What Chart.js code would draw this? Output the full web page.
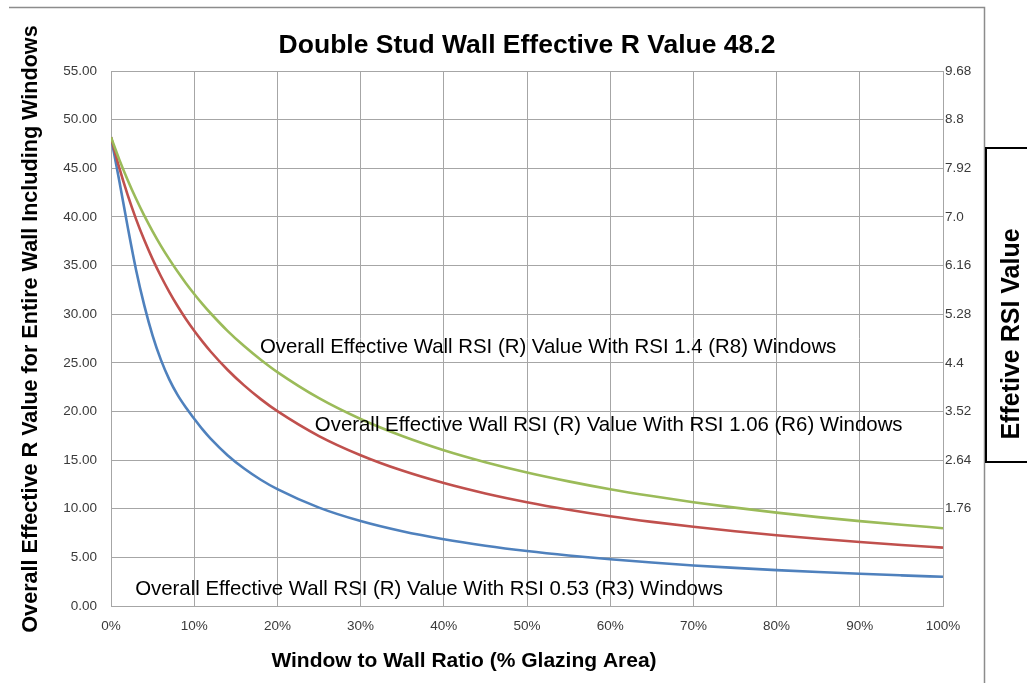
<!DOCTYPE html>
<html lang="en">
<head>
  <meta charset="UTF-8">
  <title>Double Stud Wall Effective R Value</title>
  <style>
    body { margin: 0; background: #fff; }
    #wrap { width: 1027px; height: 683px; }
  </style>
</head>
<body>

<div id="wrap">
  <canvas id="myChart" width="1027" height="683"></canvas>
</div>

<script src="https://cdn.jsdelivr.net/npm/chart.js"></script>

<script>
  // window to wall ratio, % of glazing area
  const wwr = [0, 1, 2, 3, 4, 5, 6, 7, 8, 9, 10, 11, 12, 14, 16, 18, 20, 25, 30, 35, 40,
               45, 50, 55, 60, 65, 70, 75, 80, 85, 90, 95, 100];

  // overall effective R of the wall, one series per window type
  const withR8 = [48.2, 45.89, 43.80, 41.89, 40.13, 38.52, 37.03, 35.66, 34.38, 33.19, 32.08, 31.04,
                  30.07, 28.29, 26.72, 25.31, 24.04, 21.36, 19.22, 17.47, 16.01, 14.78,
                  13.72, 12.81, 12.00, 11.30, 10.67, 10.11, 9.60, 9.14, 8.73, 8.35, 8.00];
  const withR6 = [48.2, 45.03, 42.26, 39.80, 37.62, 35.66, 33.90, 32.30, 30.84, 29.51, 28.30, 27.18,
                  26.14, 24.29, 22.68, 21.27, 20.03, 17.47, 15.50, 13.92, 12.64, 11.57,
                  10.67, 9.90, 9.23, 8.65, 8.14, 7.68, 7.27, 6.91, 6.58, 6.27, 6.00];
  const withR3 = [48.2, 43.7, 39.0, 34.6, 30.9, 27.8, 25.3, 23.3, 21.7, 20.4, 19.25, 18.15,
                  17.17, 15.50, 14.13, 12.98, 12.01, 10.11, 8.73, 7.68, 6.86, 6.20,
                  5.65, 5.19, 4.80, 4.47, 4.17, 3.92, 3.69, 3.49, 3.31, 3.15, 3.00];

  // right hand axis, RSI equivalents of the R gridlines (0..55 step 5)
  const rsiTickLabels = ['', '', '1.76', '2.64', '3.52', '4.4', '5.28', '6.16', '7.0', '7.92', '8.8', '9.68'];

  const seriesLabels = [
    'Overall Effective Wall RSI (R) Value With RSI 1.4 (R8) Windows',
    'Overall Effective Wall RSI (R) Value With RSI 1.06 (R6) Windows',
    'Overall Effective Wall RSI (R) Value With RSI 0.53 (R3) Windows'
  ];

  const toPoints = (ys) => ys.map((y, i) => ({ x: wwr[i], y: y }));

  // where the series captions sit, in chart units
  const captions = [
    { text: seriesLabels[0], x: 17.9, y: 26.6 },
    { text: seriesLabels[1], x: 24.5, y: 18.6 },
    { text: seriesLabels[2], x: 2.9, y: 1.75 }
  ];

  const gridColor = '#a6a6a6';
  const tickFont = { family: 'Liberation Sans, Arial, sans-serif', size: 13.5 };

  const decorations = {
    id: 'decorations',
    afterDraw(chart) {
      const c = chart.ctx;
      const xs = chart.scales.x, ys = chart.scales.y;
      c.save();

      // outer chart frame (top + right)
      c.strokeStyle = '#8c8c8c';
      c.lineWidth = 1.5;
      c.beginPath();
      c.moveTo(9, 7.5);
      c.lineTo(984.5, 7.5);
      c.lineTo(984.5, 683);
      c.stroke();

      c.fillStyle = '#000';
      c.textAlign = 'center';
      c.textBaseline = 'middle';

      // title
      c.font = 'bold 26.5px Liberation Sans, Arial, sans-serif';
      c.fillText('Double Stud Wall Effective R Value 48.2', 527, 46);

      // x axis title
      c.font = 'bold 21px Liberation Sans, Arial, sans-serif';
      c.fillText('Window to Wall Ratio (% Glazing Area)', 464, 661);

      // y axis title
      c.save();
      c.translate(31, 329);
      c.rotate(-Math.PI / 2);
      c.font = 'bold 21.6px Liberation Sans, Arial, sans-serif';
      c.fillText('Overall Effective R Value for Entire Wall Including Windows', 0, 0);
      c.restore();

      // RSI box on the right
      c.strokeStyle = '#000';
      c.lineWidth = 2;
      c.strokeRect(986, 148, 60, 314);
      c.save();
      c.translate(1012, 334);
      c.rotate(-Math.PI / 2);
      c.font = 'bold 25px Liberation Sans, Arial, sans-serif';
      c.fillText('Effetive RSI Value', 0, 0);
      c.restore();

      // series captions
      c.textAlign = 'left';
      c.font = '20.4px Liberation Sans, Arial, sans-serif';
      captions.forEach(cap => {
        c.fillText(cap.text, xs.getPixelForValue(cap.x), ys.getPixelForValue(cap.y));
      });

      c.restore();
    }
  };

  const lineStyle = {
    pointRadius: 0,
    borderWidth: 2.6,
    tension: 0.4,
    cubicInterpolationMode: 'monotone',
    fill: false
  };

  const ctx = document.getElementById('myChart').getContext('2d');
  const myChart = new Chart(ctx, {
    type: 'line',
    data: {
      datasets: [
        { label: seriesLabels[0], data: toPoints(withR8), borderColor: '#9bbb59', ...lineStyle },
        { label: seriesLabels[1], data: toPoints(withR6), borderColor: '#c0504d', ...lineStyle },
        { label: seriesLabels[2], data: toPoints(withR3), borderColor: '#4f81bd', ...lineStyle }
      ]
    },
    options: {
      responsive: false,
      animation: false,
      layout: { padding: { top: 71, left: 0, right: 0, bottom: 0 } },
      plugins: {
        legend: { display: false },
        tooltip: { enabled: false }
      },
      scales: {
        x: {
          type: 'linear',
          min: 0,
          max: 100,
          ticks: {
            stepSize: 10,
            padding: 12,
            color: '#3a3a3a',
            font: tickFont,
            maxRotation: 0,
            callback: v => v + '%'
          },
          grid: { color: gridColor, drawTicks: false },
          border: { color: gridColor },
          afterFit: s => { s.height = 77; }
        },
        y: {
          position: 'left',
          min: 0,
          max: 55,
          ticks: {
            stepSize: 5,
            padding: 14,
            color: '#3a3a3a',
            font: tickFont,
            callback: v => v.toFixed(2)
          },
          grid: { color: gridColor, drawTicks: false },
          border: { color: gridColor },
          afterFit: s => { s.width = 111; }
        },
        y2: {
          position: 'right',
          min: 0,
          max: 55,
          ticks: {
            stepSize: 5,
            padding: 2,
            color: '#3a3a3a',
            font: tickFont,
            callback: (v, i) => rsiTickLabels[i]
          },
          grid: { display: false, drawTicks: false },
          border: { color: gridColor },
          afterFit: s => { s.width = 84; }
        }
      }
    },
    plugins: [decorations]
  });
</script>
</body>
</html>
